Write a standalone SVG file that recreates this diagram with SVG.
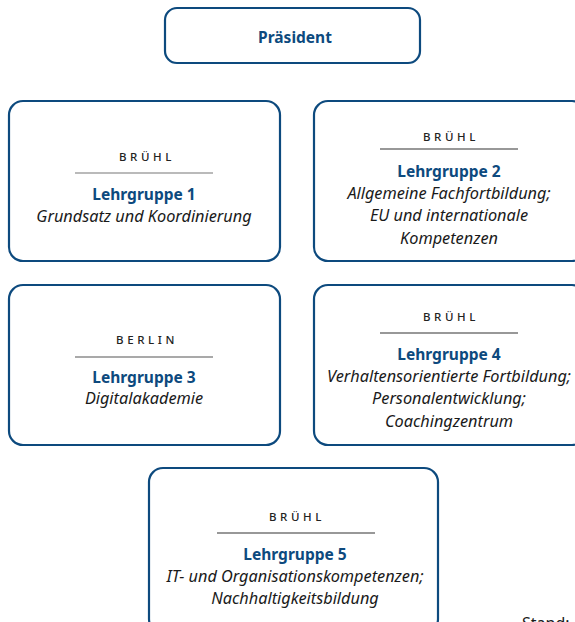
<svg xmlns="http://www.w3.org/2000/svg" width="575" height="622" viewBox="0 0 575 622">
<style>
.box{fill:#fff;stroke:#0d4a7e;stroke-width:2.2}
.loc{font-family:"Noto Sans","Liberation Sans",sans-serif;font-size:11.5px;letter-spacing:3.6px;fill:#222;text-anchor:middle;font-weight:500}
.rule{stroke:#333;stroke-width:1.2}
.t{font-family:"Noto Sans","Liberation Sans",sans-serif;font-size:15.5px;font-weight:bold;fill:#0d4a7e;text-anchor:middle}
.d{font-family:"Noto Sans","Liberation Sans",sans-serif;font-size:16.3px;font-style:italic;fill:#1a1a1a;text-anchor:middle}
.s{font-family:"Noto Sans","Liberation Sans",sans-serif;font-size:16px;fill:#1a1a1a}
</style>
<rect width="575" height="622" fill="#fff"/>
<g id="connectors"></g>
<g id="praesident">
<rect class="box" x="165" y="8" width="255" height="55" rx="12"/>
<text class="t" x="295" y="43">Präsident</text>
</g>
<g id="lg1">
<rect class="box" x="9" y="101" width="271" height="160" rx="14"/>
<text class="loc" x="147" y="161">BRÜHL</text>
<line class="rule" x1="75" y1="173" x2="213" y2="173" style="stroke:#777"/>
<text class="t" x="144" y="200">Lehrgruppe 1</text>
<text class="d" x="144" y="222">Grundsatz und Koordinierung</text>
</g>
<g id="lg2">
<rect class="box" x="314" y="101" width="272" height="160" rx="14"/>
<text class="loc" x="451" y="141">BRÜHL</text>
<line class="rule" x1="380" y1="149" x2="518" y2="149"/>
<text class="t" x="449" y="177">Lehrgruppe 2</text>
<text class="d" x="449" y="199">Allgemeine Fachfortbildung;</text>
<text class="d" x="449" y="221">EU und internationale</text>
<text class="d" x="449" y="244">Kompetenzen</text>
</g>
<g id="lg3">
<rect class="box" x="9" y="285" width="271" height="160" rx="14"/>
<text class="loc" x="147" y="344">BERLIN</text>
<line class="rule" x1="75" y1="357" x2="213" y2="357" style="stroke:#555"/>
<text class="t" x="144" y="383">Lehrgruppe 3</text>
<text class="d" x="144" y="404">Digitalakademie</text>
</g>
<g id="lg4">
<rect class="box" x="314" y="285" width="272" height="160" rx="14"/>
<text class="loc" x="451" y="321">BRÜHL</text>
<line class="rule" x1="380" y1="333" x2="518" y2="333"/>
<text class="t" x="449" y="360">Lehrgruppe 4</text>
<text class="d" x="449" y="382">Verhaltensorientierte Fortbildung;</text>
<text class="d" x="449" y="404">Personalentwicklung;</text>
<text class="d" x="449" y="427">Coachingzentrum</text>
</g>
<g id="lg5">
<rect class="box" x="149" y="468" width="289" height="165" rx="14"/>
<text class="loc" x="297" y="521">BRÜHL</text>
<line class="rule" x1="217" y1="533" x2="375" y2="533"/>
<text class="t" x="295" y="560">Lehrgruppe 5</text>
<text class="d" x="295" y="582">IT- und Organisationskompetenzen;</text>
<text class="d" x="295" y="604">Nachhaltigkeitsbildung</text>
</g>
<text class="s" x="522" y="629">Stand:</text>
</svg>
